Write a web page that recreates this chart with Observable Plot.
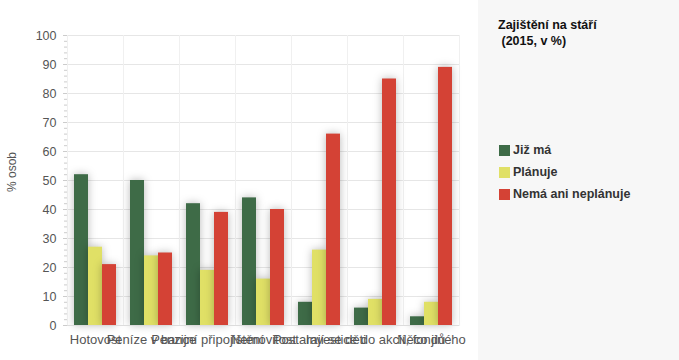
<!DOCTYPE html>
<html><head><meta charset="utf-8">
<script src="https://cdn.jsdelivr.net/npm/d3@7"></script>
<script src="https://cdn.jsdelivr.net/npm/@observablehq/plot@0.6"></script>
<style>
body{margin:0;font-family:"Liberation Sans",Arial,sans-serif;}
#wrap{display:flex;width:679px;height:360px;}
#chart{width:478px;height:360px;background:#fff;}
#side{width:201px;height:360px;background:#f7f7f7;position:relative;}
#title{position:absolute;left:20px;top:17px;font-weight:bold;font-size:12.5px;color:#111;line-height:16px;white-space:pre;}
#legend{position:absolute;left:21px;top:139px;font-weight:bold;font-size:12.5px;color:#333;}
.li{display:flex;align-items:center;height:22px;}
.sw{width:11px;height:11px;margin-right:3px;}
.bars rect{filter:drop-shadow(0 0 4px rgba(0,0,0,0.28));}
</style></head>
<body>
<div id="wrap"><div id="chart"></div><div id="side"><div id="title"></div><div id="legend"></div></div></div>
<script>
const categories = ["Hotovost","Peníze v bance","Penzijní připojištění","Nemovitost","Postarají se děti","Investice do akcií, fondů","Něco jiného"];
const seriesNames = ["Již má","Plánuje","Nemá ani neplánuje"];
const colors = ["#3e6b47","#e0e066","#d44235"];
const jizMa = [52,50,42,44,8,6,3];
const planuje = [27,24,19,16,26,9,8];
const nema = [21,25,39,40,66,85,89];
const yTicks = [0,10,20,30,40,50,60,70,80,90,100];
const yMinor = d3.range(0,101,2);
const titleText = "Zajištění na stáří\n (2015, v %)";
const yLabel = "% osob";

const seriesValues = [jizMa, planuje, nema];
const data = [];
categories.forEach((c,i)=>seriesNames.forEach((s,j)=>data.push({category:c, series:s, value:seriesValues[j][i]})));

const chart = Plot.plot({
  width: 478, height: 360,
  marginLeft: 65, marginRight: 18, marginTop: 35, marginBottom: 35,
  style:{fontFamily:"'Liberation Sans',Arial,sans-serif", fontSize:"12px", color:"#555", background:"#fff"},
  fx:{domain:categories, padding:0, label:null},
  x:{domain:seriesNames, paddingInner:0, paddingOuter:0.38, axis:null},
  y:{domain:[0,100], label:null},
  color:{domain:seriesNames, range:colors},
  marks:[
    Plot.gridY(yTicks, {stroke:"#e6e6e6", strokeOpacity:1}),
    Plot.frame({anchor:"left", stroke:"#f0f0f0"}),
    Plot.frame({anchor:"right", stroke:"#f0f0f0"}),
    Plot.barY(data, {fx:"category", x:"series", y:"value", fill:"series", className:"bars"}),
    Plot.ruleY([0], {stroke:"#dcdcdc"}),
    Plot.axisY(yMinor, {tickSize:3, text:null, stroke:"#ccc", tickPadding:0}),
    Plot.axisY(yTicks, {tickSize:4, stroke:"#ccc", tickPadding:7, fill:"#555", fontSize:12.5, label:null}),
    Plot.axisFx({anchor:"bottom", tickSize:0, tickPadding:9, fill:"#555", fontSize:13, label:null})
  ]
});
document.getElementById("chart").appendChild(chart);
const svg = d3.select(chart);
svg.append("text").attr("transform","translate(16,172) rotate(-90)").attr("text-anchor","middle")
  .attr("fill","#555").attr("font-size",12).text(yLabel);

document.getElementById("title").textContent = titleText;
const lg = document.getElementById("legend");
seriesNames.forEach((s,i)=>{
  const d=document.createElement("div");d.className="li";
  d.innerHTML=`<span class="sw" style="background:${colors[i]}"></span><span>${s}</span>`;
  lg.appendChild(d);
});
</script>
</body></html>
